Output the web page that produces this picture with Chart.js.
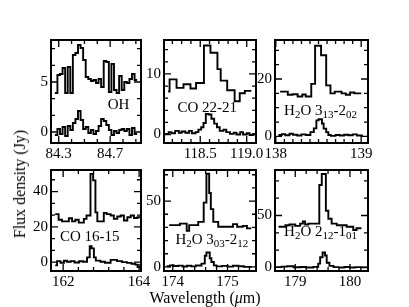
<!DOCTYPE html>
<html>
<head>
<meta charset="utf-8">
<script src="https://cdn.jsdelivr.net/npm/chart.js@4.4.1/dist/chart.umd.min.js"></script>
<style>
  body { margin: 0; background: #fff; width: 409px; height: 307px; position: relative; overflow: hidden; font-family: "Liberation Serif", serif; }
  canvas { position: absolute; }
  .title { position: absolute; font-size: 16px; color: #000; white-space: nowrap; transform: translate(-50%, -50%); }
  #ytitle { transform: translate(-50%, -50%) rotate(-90deg); }
</style>
</head>
<body>
<canvas id="p1"></canvas><canvas id="p2"></canvas><canvas id="p3"></canvas>
<canvas id="p4"></canvas><canvas id="p5"></canvas><canvas id="p6"></canvas>
<div class="title" id="ytitle" style="left:20px; top:184px">Flux density (Jy)</div>
<div class="title" id="xtitle" style="left:205px; top:298px">Wavelength (<i>μ</i>m)</div>
<script>
// OH 84 micron - channel edges and fluxes (upper = offset spectrum, lower = second spectrum)
const ohEdges = [84.27,84.29,84.31,84.33,84.35,84.37,84.39,84.41,84.43,84.45,84.47,84.49,84.51,84.53,84.55,84.57,84.59,84.61,84.63,84.65,84.67,84.69,84.71,84.73,84.75,84.77,84.79,84.81,84.83,84.85,84.87,84.89,84.91];
const ohUpper = [3.9,5.7,5.8,6.4,3.9,6.5,3.9,7.7,7.9,8.7,8.4,7.2,5.5,5.3,5.1,5.2,4.9,5.3,4.5,7.1,7.0,4.0,6.8,4.2,3.9,5.6,4.2,5.0,4.9,5.3,5.8,5.2];
const ohLower = [-0.3,0.3,-0.2,0.5,-0.4,0.6,0.2,0.9,1.3,2.1,1.2,0.3,0.5,-0.1,0.2,-0.2,0.1,0.6,1.3,1.1,0.7,0.2,-0.3,0.1,-0.1,0.2,0.3,0.1,0.3,-0.3,0.4,-0.2];

// CO 22-21
const co22EdgesUp = [118.155,118.17,118.245,118.32,118.395,118.455,118.54,118.61,118.685,118.72,118.79,118.87,118.925,118.98,119.05];
const co22Upper = [7.1,9.1,7.7,8.3,7.6,8.5,14.7,13.5,10.8,8.9,7.3,5.5,6.8,7.2];
const co22EdgesLo = [118.12,118.16,118.19,118.23,118.27,118.30,118.34,118.38,118.41,118.45,118.48,118.51,118.535,118.56,118.59,118.62,118.65,118.68,118.71,118.75,118.78,118.82,118.86,118.89,118.93,118.96,119.0,119.03,119.07,119.1];
const co22Lower = [0.1,0.4,0.2,0.6,0.3,0.5,0.3,0.6,0.2,0.4,0.8,1.2,1.9,3.4,3.3,2.6,1.8,1.2,0.6,0.8,0.4,0.1,0.3,0.0,0.4,0.0,0.2,-0.1,0.1];

// H2O 3_13-2_02
const h2oAEdgesUp = [138.05,138.14,138.195,138.255,138.31,138.35,138.415,138.46,138.53,138.59,138.64,138.69,138.77,138.82,138.87,138.92,139.0];
const h2oAUpper = [15.6,14.5,14.7,13.9,14.6,13.9,18.3,31.6,28.3,17.8,15.0,15.6,15.0,14.5,15.3,15.0];
const h2oAEdgesLo = [138.03,138.07,138.11,138.16,138.2,138.25,138.3,138.35,138.405,138.445,138.475,138.5,138.54,138.56,138.59,138.615,138.645,138.7,138.75,138.8,138.85,138.9,138.95,139.02];
const h2oALower = [0.5,0.8,0.4,0.9,0.6,0.3,0.7,0.5,1.5,2.8,5.6,6.0,4.5,2.7,1.5,0.5,0.2,0.5,0.3,0.6,0.4,0.7,0.3];

// CO 16-15
const co16EdgesUp = [161.79,161.88,161.97,162.15,162.235,162.32,162.41,162.545,162.615,162.72,162.79,162.85,162.9,163.07,163.145,163.25,163.335,163.425,163.515,163.6,163.69,163.78,163.865,163.955,164.025];
const co16Upper = [27.2,24.0,23.1,24.9,23.1,24.0,22.4,24.5,26.4,50.0,46.3,28.2,23.1,27.9,27.2,26.4,24.5,25.9,26.4,23.6,25.4,26.4,25.0,25.4];
const co16EdgesLo = [161.79,161.84,161.93,162.02,162.1,162.2,162.3,162.42,162.52,162.63,162.70,162.75,162.81,162.86,162.98,163.1,163.25,163.42,163.55,163.68,163.8,163.9,163.96,164.025];
const co16Lower = [-1.8,0.6,-0.3,0.8,0.2,0.6,-0.2,0.5,0.2,2.7,9.1,7.8,2.7,0.9,0.2,-0.3,1.3,0.6,0.0,-0.4,-0.9,-1.4,-2.7];

// H2O 3_03-2_12
const h2oBEdgesUp = [173.935,174.13,174.255,174.3,174.465,174.565,174.615,174.665,174.695,174.74,174.83,175.1,175.175,175.28,175.355,175.435];
const h2oBUpper = [31.7,32.9,27.4,31.7,34.2,48.8,70.7,56.1,43.9,34.2,30.5,32.5,30.5,31.2,29.3];
const h2oBEdgesLo = [173.89,173.95,174.02,174.1,174.18,174.26,174.34,174.42,174.525,174.585,174.615,174.675,174.705,174.75,174.8,174.9,175.0,175.1,175.2,175.3,175.44];
const h2oBLower = [0.5,1.2,0.7,1.0,0.3,0.9,0.4,1.1,2.5,8.5,11.0,6.6,3.7,1.2,0.4,0.8,0.2,0.9,0.5,0.0];

// H2O 2_12-1_01
const h2oCEdgesUp = [178.695,178.82,178.895,179.0,179.09,179.14,179.18,179.24,179.44,179.485,179.56,179.605,179.665,179.76,179.94,180.06,180.12,180.21];
const h2oCUpper = [39.2,40.7,41.4,40.0,42.2,44.4,41.4,42.2,79.3,90.0,54.6,46.9,42.2,40.7,39.2,36.1,37.7];
const h2oCEdgesLo = [178.655,178.75,178.85,178.97,179.1,179.2,179.33,179.42,179.455,179.5,179.545,179.575,179.625,179.7,179.8,179.9,180.0,180.1,180.2,180.32];
const h2oCLower = [0.3,0.8,1.2,0.2,0.5,0.0,0.6,3.7,9.8,14.4,11.5,4.5,1.5,0.3,0.0,0.4,0.0,0.3,0.1];

// tick labels
const xTicks = [[84.3, 84.7], [118.5, 119.0], [138, 139], [162, 164], [174, 175], [179, 180]];
const yTicks = [[0, 5], [0, 10], [0, 20], [0, 20, 40], [0, 50], [0, 50]];
const lineLabels = ["OH", "CO 22-21", "H_{2}O 3_{13}-2_{02}", "CO 16-15", "H_{2}O 3_{03}-2_{12}", "H_{2}O 2_{12}-1_{01}"];

const AX_W = 40, AX_H = 26, PAD_T = 8, PAD_R = 22;
const FONT = '"Liberation Serif", "Times New Roman", serif';

const panels = [
    { id: 'p1', left: 51, top: 36, w: 90, h: 107, x: [84.24, 84.94], y: [-1.1, 9.2], xMinor: 0.1, yMinor: 5 / 3, dec: 1,
      up: [ohEdges, ohUpper], lo: [ohEdges, ohLower], lab: [0.75, 0.62] },
    { id: 'p2', left: 164, top: 36, w: 92, h: 107, x: [118.11, 119.1], y: [-1.4, 15.6], xMinor: 0.1, yMinor: 2, dec: 1,
      up: [co22EdgesUp, co22Upper], lo: [co22EdgesLo, co22Lower], lab: [0.47, 0.65] },
    { id: 'p3', left: 275, top: 36, w: 93, h: 107, x: [137.99, 139.08], y: [-2.3, 33.6], xMinor: 0.1, yMinor: 5, dec: 0,
      up: [h2oAEdgesUp, h2oAUpper], lo: [h2oAEdgesLo, h2oALower], lab: [0.49, 0.68] },
    { id: 'p4', left: 51, top: 166, w: 90, h: 105, x: [161.68, 164.05], y: [-5, 52.2], xMinor: 0.4, yMinor: 20 / 3, dec: 0,
      up: [co16EdgesUp, co16Upper], lo: [co16EdgesLo, co16Lower], lab: [0.43, 0.65] },
    { id: 'p5', left: 164, top: 166, w: 92, h: 105, x: [173.84, 175.52], y: [-3.1, 73.6], xMinor: 0.2, yMinor: 10, dec: 0,
      up: [h2oBEdgesUp, h2oBUpper], lo: [h2oBEdgesLo, h2oBLower], lab: [0.52, 0.685] },
    { id: 'p6', left: 275, top: 166, w: 93, h: 105, x: [178.63, 180.33], y: [-3.4, 93.8], xMinor: 0.2, yMinor: 50 / 3, dec: 0,
      up: [h2oCEdgesUp, h2oCUpper], lo: [h2oCEdgesLo, h2oCLower], lab: [0.49, 0.60] }
];

function stepPoints(edges, vals) {
    return edges.map((x, i) => ({ x: x, y: vals[Math.min(i, vals.length - 1)] }));
}

function drawLabel(ctx, text, cx, cy) {
    const parts = text.split(/_\{([^}]*)\}/);
    const mainFont = '15px ' + FONT, subFont = '11px ' + FONT;
    let w = 0;
    parts.forEach((t, i) => { ctx.font = i % 2 ? subFont : mainFont; w += ctx.measureText(t).width; });
    let x = cx - w / 2;
    ctx.textAlign = 'left';
    ctx.textBaseline = 'alphabetic';
    parts.forEach((t, i) => {
        ctx.font = i % 2 ? subFont : mainFont;
        ctx.fillText(t, x, cy + 5 + (i % 2 ? 3 : 0));
        x += ctx.measureText(t).width;
    });
}

// frame + inward ticks on all four sides + line label
const framePlugin = {
    id: 'frame',
    afterDatasetsDraw(chart, args, o) {
        const { ctx, chartArea: a } = chart;
        const sx = chart.scales.x, sy = chart.scales.y;
        ctx.save();
        ctx.strokeStyle = '#000';
        ctx.fillStyle = '#000';
        ctx.lineWidth = 1.3;
        const axTicks = (major, minor, scale, horiz) => {
            const [mn, mx] = [scale.min, scale.max];
            const base = major[0];
            const k0 = Math.ceil((mn - base) / minor - 1e-6), k1 = Math.floor((mx - base) / minor + 1e-6);
            for (let k = k0; k <= k1; k++) {
                const v = base + k * minor;
                const isMajor = major.some(m => Math.abs(m - v) < minor * 0.01) ||
                    Math.abs(((v - base) / (major[1] - base)) - Math.round((v - base) / (major[1] - base))) < 0.01;
                const len = isMajor ? 7 : 4;
                const p = scale.getPixelForValue(v);
                ctx.beginPath();
                if (horiz) {
                    ctx.moveTo(p, a.bottom); ctx.lineTo(p, a.bottom - len);
                    ctx.moveTo(p, a.top); ctx.lineTo(p, a.top + len);
                } else {
                    ctx.moveTo(a.left, p); ctx.lineTo(a.left + len, p);
                    ctx.moveTo(a.right, p); ctx.lineTo(a.right - len, p);
                }
                ctx.stroke();
            }
        };
        axTicks(o.xMajor, o.xMinor, sx, true);
        axTicks(o.yMajor, o.yMinor, sy, false);
        ctx.lineWidth = 2;
        ctx.strokeRect(a.left, a.top, a.right - a.left, a.bottom - a.top);
        drawLabel(ctx, o.label, a.left + o.lab[0] * (a.right - a.left), a.top + o.lab[1] * (a.bottom - a.top));
        ctx.restore();
    }
};

function makePanel(p, idx) {
    const cv = document.getElementById(p.id);
    cv.width = p.w + AX_W + PAD_R;
    cv.height = p.h + PAD_T + AX_H;
    cv.style.left = (p.left - AX_W) + 'px';
    cv.style.top = (p.top - PAD_T) + 'px';
    const trace = pts => ({ data: pts, stepped: true, borderColor: '#000', borderWidth: 1.9, pointRadius: 0, fill: false });
    const tickFont = { family: FONT, size: 15 };
    new Chart(cv, {
        type: 'line',
        data: { datasets: [trace(stepPoints(p.up[0], p.up[1])), trace(stepPoints(p.lo[0], p.lo[1]))] },
        options: {
            responsive: false, animation: false, devicePixelRatio: 1,
            layout: { padding: { left: 0, top: PAD_T, right: PAD_R, bottom: 0 } },
            plugins: {
                legend: { display: false }, tooltip: { enabled: false },
                frame: { xMajor: xTicks[idx], yMajor: yTicks[idx], xMinor: p.xMinor, yMinor: p.yMinor, label: lineLabels[idx], lab: p.lab }
            },
            scales: {
                x: {
                    type: 'linear', min: p.x[0], max: p.x[1],
                    afterFit: s => { s.height = AX_H; },
                    afterBuildTicks: s => { s.ticks = xTicks[idx].map(v => ({ value: v })); },
                    ticks: { autoSkip: false, maxRotation: 0, padding: 2, color: '#000', font: tickFont, callback: v => v.toFixed(p.dec) },
                    grid: { display: false, drawTicks: false }, border: { display: false }
                },
                y: {
                    type: 'linear', min: p.y[0], max: p.y[1],
                    afterFit: s => { s.width = AX_W; },
                    afterBuildTicks: s => { s.ticks = yTicks[idx].map(v => ({ value: v })); },
                    ticks: { autoSkip: false, padding: 3, color: '#000', font: tickFont, callback: v => String(v) },
                    grid: { display: false, drawTicks: false }, border: { display: false }
                }
            }
        },
        plugins: [framePlugin]
    });
}

panels.forEach(makePanel);
</script>
</body>
</html>
